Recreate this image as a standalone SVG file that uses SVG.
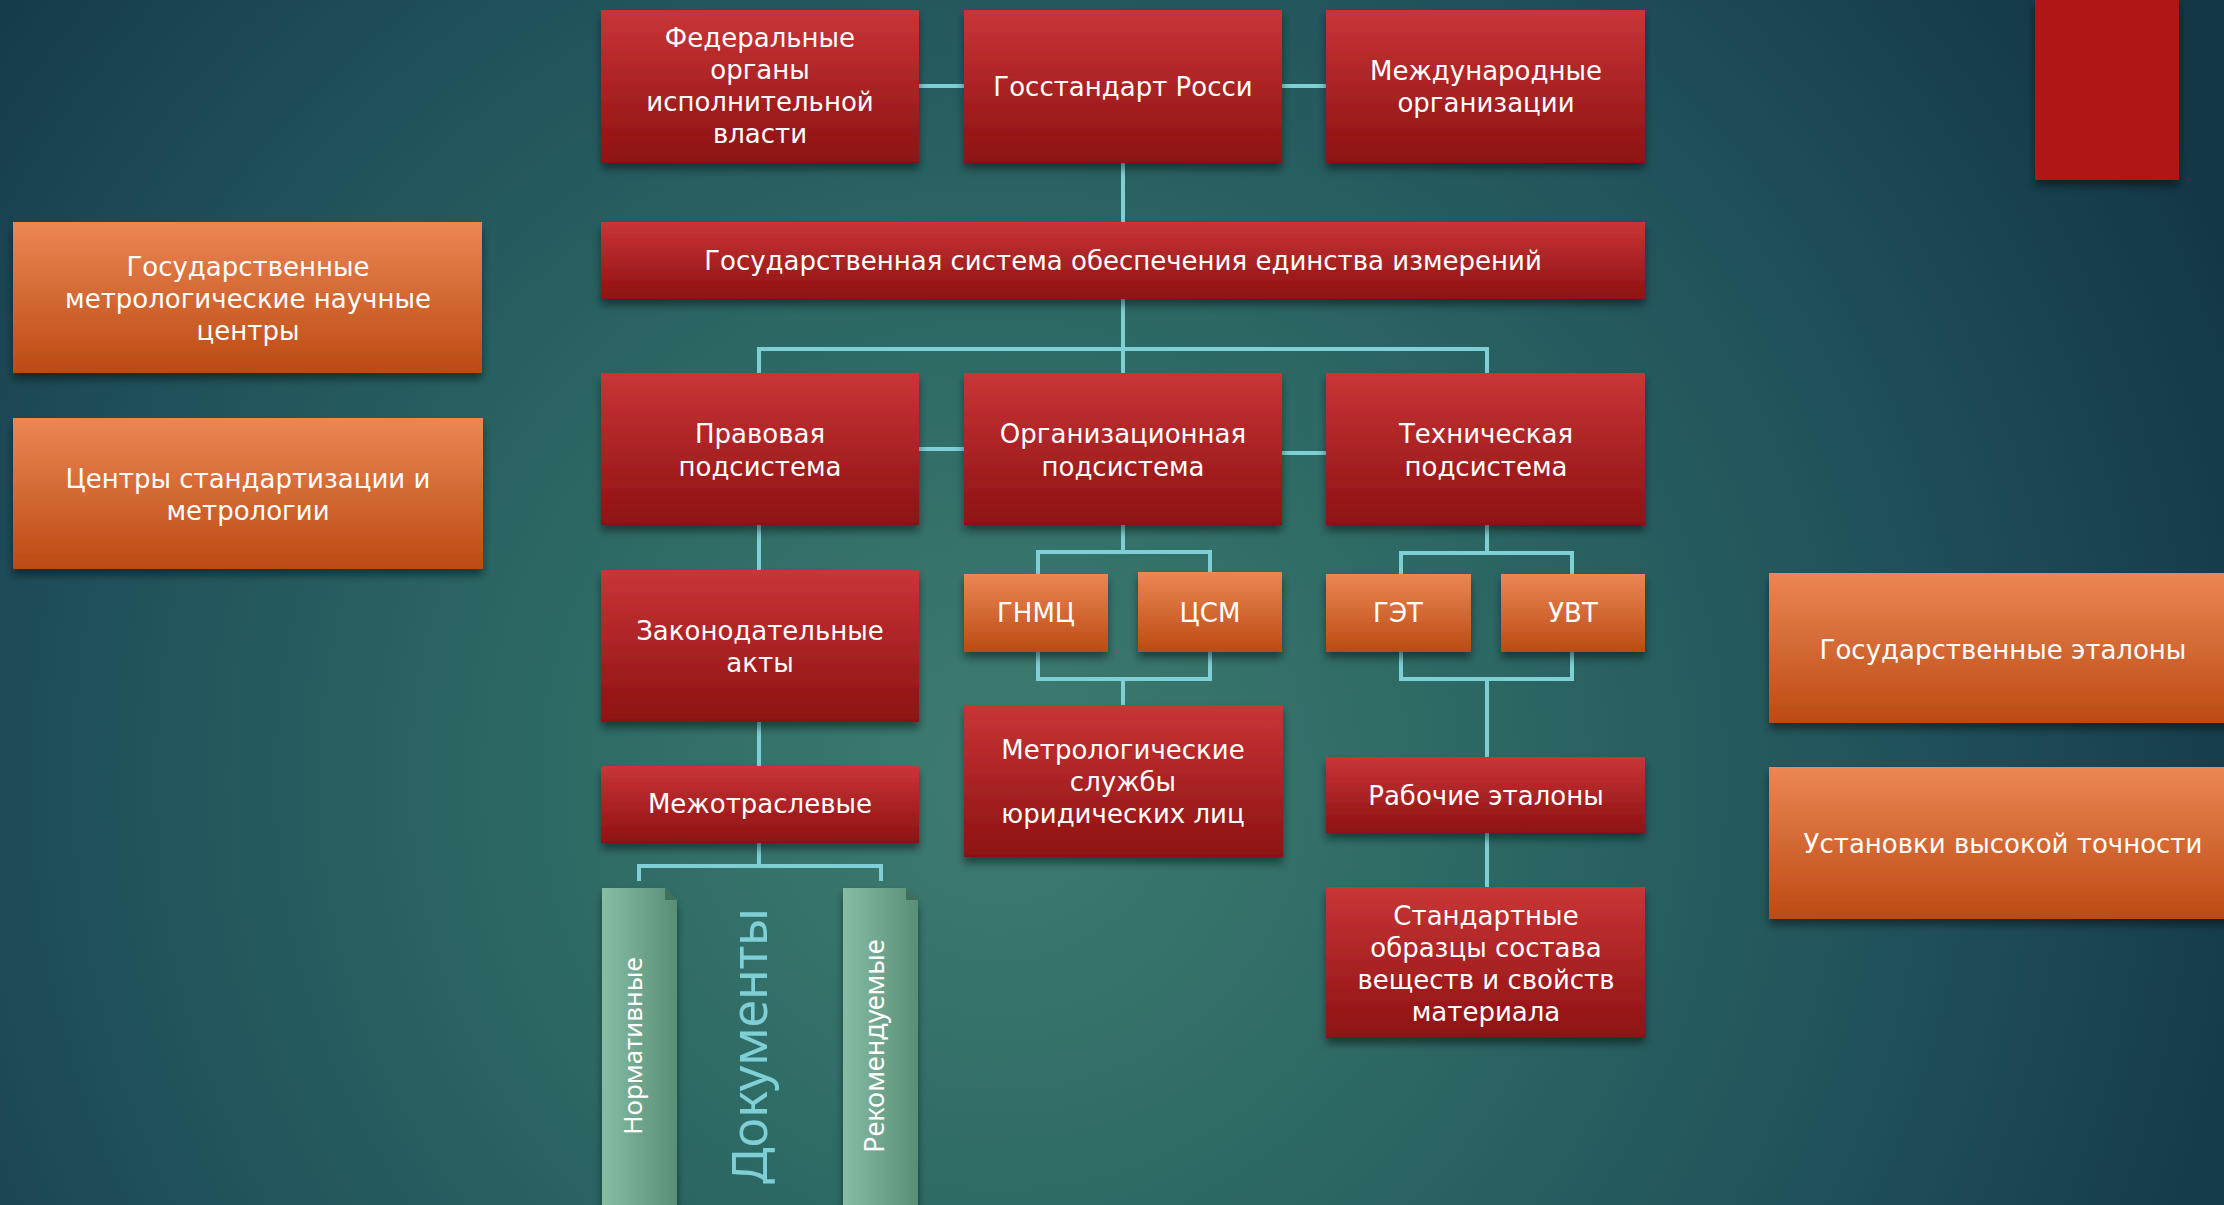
<svg xmlns="http://www.w3.org/2000/svg" width="2224" height="1205" viewBox="0 0 2224 1205">
<defs>
<radialGradient id="bg" cx="1000" cy="780" r="1350" gradientUnits="userSpaceOnUse">
<stop offset="0" stop-color="#3e7c70"/>
<stop offset="0.35" stop-color="#2d6964"/>
<stop offset="0.7" stop-color="#1f4f5a"/>
<stop offset="1" stop-color="#133646"/>
</radialGradient>
<linearGradient id="red" x1="0" y1="0" x2="0" y2="1">
<stop offset="0" stop-color="#c93536"/>
<stop offset="1" stop-color="#8d1112"/>
</linearGradient>
<linearGradient id="orange" x1="0" y1="0" x2="0" y2="1">
<stop offset="0" stop-color="#ec8655"/>
<stop offset="1" stop-color="#bb4b12"/>
</linearGradient>
<linearGradient id="green" x1="0" y1="0" x2="1" y2="0">
<stop offset="0" stop-color="#86bda3"/>
<stop offset="1" stop-color="#5a8e77"/>
</linearGradient>
<filter id="sh" x="-10%" y="-10%" width="120%" height="130%">
<feDropShadow dx="0" dy="6" stdDeviation="4" flood-color="#000" flood-opacity="0.45"/>
</filter>
</defs>
<style>
.r{fill:url(#red);filter:url(#sh)}
.o{fill:url(#orange);filter:url(#sh)}
.g{fill:url(#green);filter:url(#sh)}
.t{font-family:"DejaVu Sans","Noto Sans",sans-serif;font-size:26px;fill:#ffffff;text-anchor:middle}
.v{font-family:"Noto Sans","DejaVu Sans",sans-serif;font-size:27px;fill:#ffffff;text-anchor:middle}
.d{font-family:"Noto Sans","DejaVu Sans",sans-serif;font-size:50px;fill:#7fcfd7;text-anchor:middle}
.c{stroke:#7ecfd6;stroke-width:4;fill:none}
</style>
<rect x="0" y="0" width="2224" height="1205" fill="url(#bg)"/>

<g id="connectors">
<path class="c" d="M919 86H964M1282 86H1326M1123 163V222M1123 299V373M759 373V349H1487V373M919 449H964M1282 453H1326M759 525V570M1123 525V552M1038 574V552H1210V572M1487 525V553M1401 574V553H1572V574M1038 652V679H1210V652M1123 679V705M1401 652V679H1572V652M1487 679V757M1487 833V887M759 722V766M759 843V866M639 881V866H881V881"/>
</g>

<g id="n-fed"><rect class="r" x="601" y="10" width="318" height="153"/>
<text class="t"><tspan x="760" y="47">Федеральные</tspan><tspan x="760" y="79">органы</tspan><tspan x="760" y="111">исполнительной</tspan><tspan x="760" y="143">власти</tspan></text></g>
<g id="n-goss"><rect class="r" x="964" y="10" width="318" height="153"/>
<text class="t" x="1123" y="96">Госстандарт Росси</text></g>
<g id="n-mezhd"><rect class="r" x="1326" y="10" width="319" height="153"/>
<text class="t"><tspan x="1486" y="80">Международные</tspan><tspan x="1486" y="112">организации</tspan></text></g>
<g id="n-gsi"><rect class="r" x="601" y="222" width="1044" height="77"/>
<text class="t" x="1123" y="270">Государственная система обеспечения единства измерений</text></g>

<g id="n-prav"><rect class="r" x="601" y="373" width="318" height="152"/>
<text class="t"><tspan x="760" y="443">Правовая</tspan><tspan x="760" y="476">подсистема</tspan></text></g>
<g id="n-org"><rect class="r" x="964" y="373" width="318" height="152"/>
<text class="t"><tspan x="1123" y="443">Организационная</tspan><tspan x="1123" y="476">подсистема</tspan></text></g>
<g id="n-tech"><rect class="r" x="1326" y="373" width="319" height="152"/>
<text class="t"><tspan x="1486" y="443">Техническая</tspan><tspan x="1486" y="476">подсистема</tspan></text></g>

<g id="n-gnmc"><rect class="o" x="964" y="574" width="144" height="78"/>
<text class="t" x="1036" y="622">ГНМЦ</text></g>
<g id="n-csm"><rect class="o" x="1138" y="572" width="144" height="80"/>
<text class="t" x="1210" y="622">ЦСМ</text></g>
<g id="n-get"><rect class="o" x="1326" y="574" width="145" height="78"/>
<text class="t" x="1398" y="622">ГЭТ</text></g>
<g id="n-uvt"><rect class="o" x="1501" y="574" width="144" height="78"/>
<text class="t" x="1573" y="622">УВТ</text></g>

<g id="n-zakon"><rect class="r" x="601" y="570" width="318" height="152"/>
<text class="t"><tspan x="760" y="640">Законодательные</tspan><tspan x="760" y="672">акты</tspan></text></g>
<g id="n-mezhotr"><rect class="r" x="601" y="766" width="318" height="77"/>
<text class="t" x="760" y="813">Межотраслевые</text></g>
<g id="n-metr"><rect class="r" x="964" y="705" width="319" height="152"/>
<text class="t"><tspan x="1123" y="759">Метрологические</tspan><tspan x="1123" y="791">службы</tspan><tspan x="1123" y="823">юридических лиц</tspan></text></g>
<g id="n-rab"><rect class="r" x="1326" y="757" width="319" height="76"/>
<text class="t" x="1486" y="805">Рабочие эталоны</text></g>
<g id="n-stand"><rect class="r" x="1326" y="887" width="319" height="151"/>
<text class="t"><tspan x="1486" y="925">Стандартные</tspan><tspan x="1486" y="957">образцы состава</tspan><tspan x="1486" y="989">веществ и свойств</tspan><tspan x="1486" y="1021">материала</tspan></text></g>

<g id="n-norm"><path class="g" d="M602 888H665L677 900V1215H602Z"/><path d="M665 888L677 900H665Z" fill="#3f6f5c"/>
<text class="v" font-size="26" style="font-size:26px" transform="translate(633,1046) rotate(-90)" x="0" y="9">Нормативные</text></g>
<g id="n-docs"><text class="d" transform="translate(750,1046) rotate(-90)" x="0" y="17">Документы</text></g>
<g id="n-rek"><path class="g" d="M843 888H906L918 900V1215H843Z"/><path d="M906 888L918 900H906Z" fill="#3f6f5c"/>
<text class="v" transform="translate(875,1046) rotate(-90)" x="0" y="9">Рекомендуемые</text></g>

<g id="n-gmnc"><rect class="o" x="13" y="222" width="469" height="151"/>
<text class="t"><tspan x="248" y="276">Государственные</tspan><tspan x="248" y="308">метрологические научные</tspan><tspan x="248" y="340">центры</tspan></text></g>
<g id="n-csmc"><rect class="o" x="13" y="418" width="470" height="151"/>
<text class="t"><tspan x="248" y="488">Центры стандартизации и</tspan><tspan x="248" y="520">метрологии</tspan></text></g>

<g id="n-redsq"><rect x="2035" y="0" width="144" height="180" fill="#b01616" filter="url(#sh)"/></g>
<g id="n-gosetal"><rect class="o" x="1769" y="573" width="470" height="150"/>
<text class="t" x="2003" y="659">Государственные эталоны</text></g>
<g id="n-ustan"><rect class="o" x="1769" y="767" width="470" height="152"/>
<text class="t" x="2003" y="853">Установки высокой точности</text></g>
</svg>
